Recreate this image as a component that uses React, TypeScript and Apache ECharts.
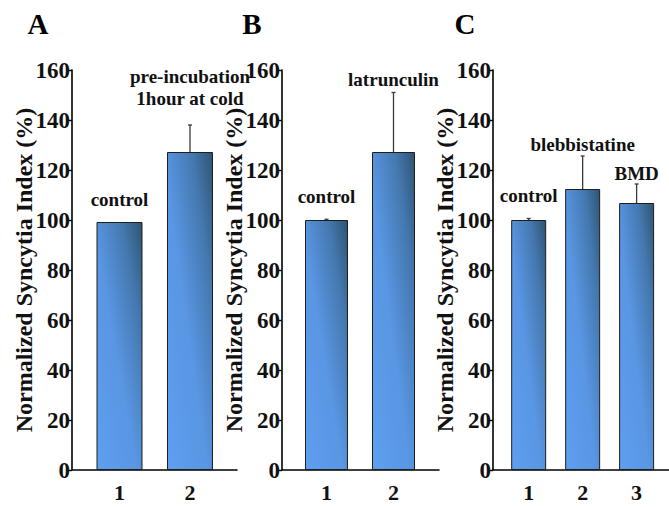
import React, { useEffect, useRef } from "react";
import * as echarts from "echarts";

// ---- data ----
const panelLetters = ["A", "B", "C"];
const yAxisTitle = "Normalized Syncytia Index (%)";
const yMin = 0;
const yMax = 160;
const yStep = 20;

const categoriesA = [1, 2];
const valuesA = [99.2, 127.2];
const errorsA = [0, 10.8];
const labelsA = ["control", "pre-incubation\n1hour at cold"];

const categoriesB = [1, 2];
const valuesB = [100, 127.2];
const errorsB = [0.3, 23.8];
const labelsB = ["control", "latrunculin"];

const categoriesC = [1, 2, 3];
const valuesC = [100, 112.4, 106.8];
const errorsC = [0.6, 13.2, 7.6];
const labelsC = ["control", "blebbistatine", "BMD"];

// ---- layout / style ----
const FONT = "Liberation Serif";
const GRID_TOP = 70;
const GRID_HEIGHT = 400;

const panels = [
  { cats: categoriesA, vals: valuesA, errs: errorsA, labels: labelsA, left: 72, width: 165, min: 0.326, max: 2.667, barWidth: 46, letterX: 38, titleX: 24, lift: [12, 16] },
  { cats: categoriesB, vals: valuesB, errs: errorsB, labels: labelsB, left: 282, width: 157, min: 0.336, max: 2.679, barWidth: 43, letterX: 252, titleX: 234, lift: [12, 2] },
  { cats: categoriesC, vals: valuesC, errs: errorsC, labels: labelsC, left: 493, width: 176, min: 0.339, max: 3.6, barWidth: 35, letterX: 465, titleX: 445, lift: [12, 1, 0] },
];

const barGradient = {
  type: "linear",
  x: 0,
  y: 1,
  x2: 1,
  y2: 0,
  colorStops: [
    { offset: 0, color: "#5e9ff0" },
    { offset: 0.45, color: "#5996e3" },
    { offset: 0.78, color: "#4477ad" },
    { offset: 1, color: "#2e5472" },
  ],
};

export default function App() {
  const ref = useRef<HTMLDivElement>(null);

  useEffect(() => {
    if (!ref.current) return;
    const chart = echarts.init(ref.current, null, { renderer: "svg" });

    const grid = panels.map((p) => ({
      left: p.left,
      top: GRID_TOP,
      width: p.width,
      height: GRID_HEIGHT,
      containLabel: false,
    }));

    const xAxis = panels.map((p, i) => ({
      type: "value",
      gridIndex: i,
      min: p.min,
      max: p.max,
      splitLine: { show: false },
      axisTick: { show: false },
      axisLine: { show: true, onZero: false, lineStyle: { color: "#000", width: 1.6 } },
      axisLabel: {
        customValues: p.cats,
        fontFamily: FONT,
        fontWeight: "bold",
        fontSize: 22,
        color: "#111",
        margin: 11,
        formatter: (v: number) => String(v),
      },
    }));

    const yAxis = panels.map((p, i) => ({
      type: "value",
      gridIndex: i,
      min: yMin,
      max: yMax,
      interval: yStep,
      splitLine: { show: false },
      axisLine: { show: true, lineStyle: { color: "#000", width: 1.6 } },
      axisTick: { show: true, length: 4, lineStyle: { color: "#000", width: 1.4 } },
      axisLabel: {
        fontFamily: FONT,
        fontWeight: "bold",
        fontSize: 23,
        color: "#111",
        margin: 2,
      },
    }));

    const series: any[] = [];
    panels.forEach((p, i) => {
      series.push({
        type: "bar",
        xAxisIndex: i,
        yAxisIndex: i,
        barWidth: p.barWidth,
        data: p.cats.map((c, k) => [c, p.vals[k]]),
        itemStyle: { color: barGradient, borderColor: "#1e1e1e", borderWidth: 1 },
      });
      series.push({
        type: "custom",
        xAxisIndex: i,
        yAxisIndex: i,
        data: p.cats.map((c, k) => [c, p.vals[k], p.errs[k]]),
        renderItem: (params: any, api: any) => {
          const k = params.dataIndex;
          const x = api.value(0);
          const v = api.value(1);
          const e = api.value(2);
          const base = api.coord([x, v]);
          const top = api.coord([x, v + e]);
          const children: any[] = [];
          if (e > 0) {
            children.push({
              type: "line",
              shape: { x1: base[0], y1: base[1], x2: top[0], y2: top[1] },
              style: { stroke: "#3a3a3a", lineWidth: 1.3 },
            });
            children.push({
              type: "line",
              shape: { x1: top[0] - 2, y1: top[1], x2: top[0] + 2, y2: top[1] },
              style: { stroke: "#3a3a3a", lineWidth: 1.3 },
            });
          }
          children.push({
            type: "text",
            x: top[0],
            y: top[1] - p.lift[k],
            style: {
              text: p.labels[k],
              align: "center",
              verticalAlign: "bottom",
              fontFamily: FONT,
              fontWeight: "bold",
              fontSize: 19,
              lineHeight: 22,
              fill: "#111",
            },
          });
          return { type: "group", children };
        },
      });
    });

    const graphic: any[] = [];
    panels.forEach((p, i) => {
      graphic.push({
        type: "text",
        x: p.letterX,
        y: 24,
        style: {
          text: panelLetters[i],
          align: "center",
          verticalAlign: "middle",
          fontFamily: FONT,
          fontWeight: "bold",
          fontSize: 29,
          fill: "#000",
        },
      });
      graphic.push({
        type: "text",
        x: p.titleX,
        y: GRID_TOP + GRID_HEIGHT / 2,
        rotation: Math.PI / 2,
        style: {
          text: yAxisTitle,
          align: "center",
          verticalAlign: "middle",
          fontFamily: FONT,
          fontWeight: "bold",
          fontSize: 24,
          fill: "#111",
        },
      });
    });

    chart.setOption({
      animation: false,
      backgroundColor: "#fff",
      grid,
      xAxis,
      yAxis,
      series,
      graphic,
    });

    return () => chart.dispose();
  }, []);

  return (
    <div
      ref={ref}
      style={{ position: "fixed", left: 0, top: 0, width: 669, height: 507 }}
    />
  );
}
